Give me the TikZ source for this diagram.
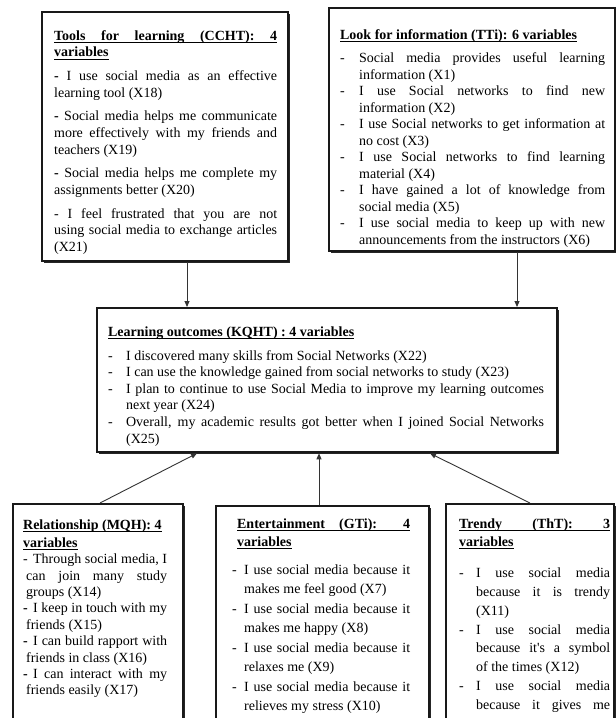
\documentclass[tikz,border=0pt]{standalone}
\usepackage{fontspec}
\setmainfont{Liberation Serif}
\usetikzlibrary{arrows.meta,shadows}
\hyphenpenalty=10000
\exhyphenpenalty=10000
\tolerance=10000
\hbadness=10000
\vbadness=10000
\newsavebox\ulb
\newcommand\ulnat[1]{\sbox\ulb{#1}\usebox\ulb\llap{\rule[-2.3pt]{\wd\ulb}{0.75pt}}}
\newcommand\ulfull[2]{\makebox[#1][s]{#2}\llap{\rule[-2.3pt]{#1}{0.75pt}}}
\newcommand\hit[2]{\hangindent=#1\hangafter=1\noindent\makebox[#1][l]{-}#2\par}
\newcommand\rit[2]{\hangindent=3pt\hangafter=1\noindent\makebox[10pt][l]{#1}#2\par}
\newcommand\boxbody[5]{\hspace*{#1}\parbox[t][#4][t]{#2}{#5}\hspace*{#3}}
\begin{document}
\begin{tikzpicture}[x=1pt,y=-1pt,
  box/.style={draw=black!90, line width=2.3pt, fill=white, inner xsep=0pt, anchor=north west,
    drop shadow={shadow xshift=2.3pt, shadow yshift=-2.3pt, opacity=1, fill=black!85}},
  arr/.style={draw=black!80, line width=0.9pt, -{Triangle[length=6pt,width=5pt]}}]
\useasboundingbox (0,0) rectangle (616,718);
\clip (0,0) rectangle (616,718);
\fill[white] (0,0) rectangle (616,718);

% Tools for learning
\node[box, inner ysep=16pt] (tools) at (41,11) {\boxbody{12pt}{223pt}{11pt}{217pt}{%
\fontsize{14}{16.8}\selectfont\setlength\parskip{6.7pt}%
\rule{0pt}{12pt}\ulfull{223pt}{\textbf{Tools for learning (CCHT): 4}}\\
\ulnat{\textbf{variables}}\par
\textbf{-} I use social media as an effective\linebreak learning tool (X18)\par
\textbf{-} Social media helps me communicate\linebreak more effectively with my friends and\linebreak teachers (X19)\par
\textbf{-} Social media helps me complete my\linebreak assignments better (X20)\par
- I feel frustrated that you are not\linebreak using social media to exchange articles\linebreak (X21)\par}};

% Look for information
\node[box, inner ysep=19pt] (look) at (328,7) {\boxbody{11pt}{265pt}{10pt}{205pt}{%
\fontsize{14}{16.5}\selectfont
\rule{0pt}{12pt}\ulnat{\textbf{Look for information (TTi): 6 variables}}\par
\vspace{7pt}
\hit{19pt}{Social media provides useful learning\linebreak information (X1)}
\hit{19pt}{I use Social networks to find new\linebreak information (X2)}
\hit{19pt}{I use Social networks to get information at\linebreak no cost (X3)}
\hit{19pt}{I use Social networks to find learning\linebreak material (X4)}
\hit{19pt}{I have gained a lot of knowledge from\linebreak social media (X5)}
\hit{19pt}{I use social media to keep up with new\linebreak announcements from the instructors (X6)}}};

% Learning outcomes
\node[box, inner ysep=16pt] (learn) at (96,307) {\boxbody{11pt}{436pt}{13pt}{112pt}{%
\fontsize{14}{16.6}\selectfont
\rule{0pt}{12pt}\ulnat{\textbf{Learning outcomes (KQHT) : 4 variables}}\par
\vspace{7.4pt}
\hit{18pt}{I discovered many skills from Social Networks (X22)}
\hit{18pt}{I can use the knowledge gained from social networks to study (X23)}
\hit{18pt}{I plan to continue to use Social Media to improve my learning outcomes\linebreak next year (X24)}
\hit{18pt}{Overall, my academic results got better when I joined Social Networks\linebreak (X25)}}};

% Relationship
\node[box, inner ysep=13pt] (rel) at (12,503) {\boxbody{10pt}{144pt}{16pt}{216pt}{%
\fontsize{14}{16.4}\selectfont
\rule{0pt}{12pt}\ulnat{\textbf{Relationship (MQH): 4}}\\[2.1pt]
\ulnat{\textbf{variables}}\par
\vspace{-0.4pt}
\rit{-}{Through social media, I\linebreak can join many study\linebreak groups (X14)}
\rit{\textbf{-}}{I keep in touch with my\linebreak friends (X15)}
\rit{\textbf{-}}{I can build rapport with\linebreak friends in class (X16)}
\rit{\textbf{-}}{I can interact with my\linebreak friends easily (X17)}}};

% Entertainment
\node[box, inner ysep=10pt] (ent) at (215,505) {\boxbody{16pt}{178pt}{19pt}{220pt}{%
\fontsize{14}{19.5}\selectfont
\rule{0pt}{12pt}\hspace*{5pt}\ulfull{173pt}{\textbf{Entertainment (GTi): 4}}\\[-1.5pt]
\hspace*{5pt}\ulnat{\textbf{variables}}\par
\vspace{8.5pt}
\hit{12pt}{I use social media because it\linebreak makes me feel good (X7)}
\hit{12pt}{I use social media because it\linebreak makes me happy (X8)}
\hit{12pt}{I use social media because it\linebreak relaxes me (X9)}
\hit{12pt}{I use social media because it\linebreak relieves my stress (X10)}}};

% Trendy
\node[box, inner ysep=12pt] (tr) at (445,503) {\boxbody{13pt}{151pt}{4pt}{218pt}{%
\fontsize{14}{18.8}\selectfont
\rule{0pt}{12pt}\ulfull{151pt}{\textbf{Trendy (ThT): 3}}\\[-0.8pt]
\ulnat{\textbf{variables}}\par
\vspace{12.7pt}
\hit{17pt}{I use social media\linebreak because it is trendy\linebreak (X11)}
\hit{17pt}{I use social media\linebreak because it\textquotesingle s a symbol\linebreak of the times (X12)}
\hit{17pt}{I use social media\linebreak because it gives me\linebreak}}};

% connectors
\coordinate (t1) at ([xshift=146pt]tools.south west);
\coordinate (l1) at ([xshift=189pt]look.south west);
\coordinate (r1) at ([xshift=88pt]rel.north west);
\coordinate (r2) at ([xshift=101pt]learn.south west);
\coordinate (e1) at ([xshift=104pt]ent.north west);
\coordinate (h1) at ([xshift=85pt]tr.north west);
\coordinate (h2) at ([xshift=334pt]learn.south west);
\draw[arr] (t1) -- (t1 |- learn.north);
\draw[arr] (l1) -- (l1 |- learn.north);
\draw[arr] (r1) -- (r2);
\draw[arr] (e1) -- (e1 |- learn.south);
\draw[arr] (h1) -- (h2);
\end{tikzpicture}
\end{document}
